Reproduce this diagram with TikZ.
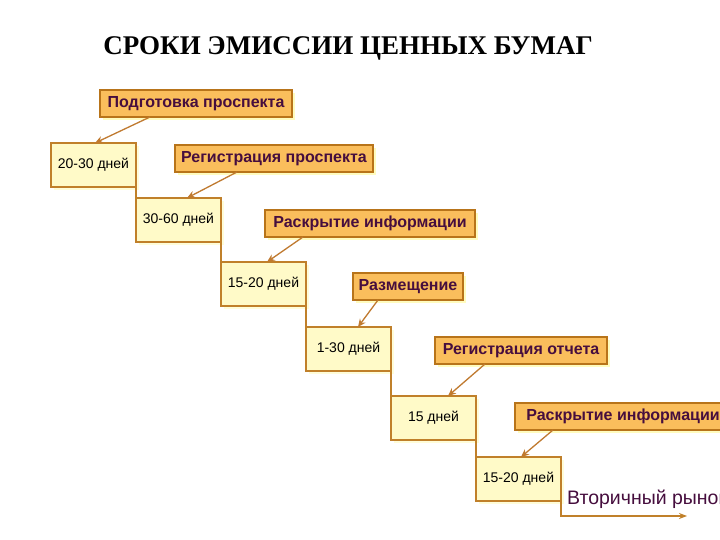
\documentclass[tikz,border=0pt]{standalone}
\usepackage{fontspec}
\setmainfont{Liberation Sans}
\newfontfamily\titlefont{Liberation Serif}
\usetikzlibrary{arrows.meta,shadows}

\definecolor{labelfill}{RGB}{250,190,92}
\definecolor{labeldraw}{RGB}{184,116,26}
\definecolor{dayfill}{RGB}{255,250,200}
\definecolor{daydraw}{RGB}{192,128,42}
\definecolor{labeltext}{RGB}{70,14,62}
\definecolor{arrowcol}{RGB}{192,122,48}

\tikzset{
    stage/.style={draw=labeldraw, line width=1.6pt, fill=labelfill, anchor=north west, outer sep=0pt,
        minimum height=27pt, inner sep=0pt, text=labeltext, font=\fontsize{16}{17}\selectfont\bfseries,
        drop shadow={fill=yellow!25, shadow xshift=3pt, shadow yshift=-3pt, opacity=1}},
    days/.style={draw=daydraw, line width=1.6pt, fill=dayfill, anchor=north west, outer sep=0pt,
        minimum width=85pt, minimum height=44pt, inner sep=0pt, font=\fontsize{14}{15}\selectfont,
        drop shadow={fill=yellow!15, shadow xshift=3pt, shadow yshift=-3pt, opacity=1}},
    pointer/.style={draw=arrowcol, line width=1.3pt, -{Stealth[length=8pt,width=7pt]}},
    stair/.style={draw=daydraw, line width=1.4pt}
}

\begin{document}
\begin{tikzpicture}[x=1pt, y=-1pt]
        \clip (0,0) rectangle (720,540);
        \fill[white] (0,0) rectangle (720,540);
        \node[anchor=base, font=\titlefont\fontsize{27}{28}\selectfont\bfseries] (title) at (348,55) {СРОКИ ЭМИССИИ ЦЕННЫХ БУМАГ};

        %Подготовка проспекта 20-30
        \node[stage, minimum width=192pt] (l1) at (100,90) {Подготовка проспекта};
        \node[days] (d1) at (51,143) {20-30 дней};

        %Регистрация проспекта 30-60
        \node[stage, minimum width=198pt] (l2) at (175,145) {Регистрация проспекта};
        \node[days] (d2) at (136,198) {30-60 дней};

        %Раскрытие информации 15-20
        \node[stage, minimum width=210pt] (l3) at (265,210) {Раскрытие информации};
        \node[days] (d3) at (221,262) {15-20 дней};

        %Размещение 1-30
        \node[stage, minimum width=110pt] (l4) at (353,273) {Размещение};
        \node[days] (d4) at (306,327) {1-30 дней};

        %Регистрация отчета 15
        \node[stage, minimum width=172pt] (l5) at (435,337) {Регистрация отчета};
        \node[days] (d5) at (391,396) {15 дней};

        %Раскрытие информации 15-20
        \node[stage, minimum width=216pt] (l6) at (515,403) {Раскрытие информации};
        \node[days] (d6) at (476,457) {15-20 дней};

        \node[anchor=base west, text=labeltext, font=\fontsize{19.5}{20}\selectfont, inner sep=0pt] (market) at (567,504) {Вторичный рынок};
        \coordinate (end) at (687,516);

        %lestnica
        \draw[stair] (d1.south east) -- (d2.north west);
        \draw[stair] (d2.south east) -- (d3.north west);
        \draw[stair] (d3.south east) -- (d4.north west);
        \draw[stair] (d4.south east) -- (d5.north west);
        \draw[stair] (d5.south east) -- (d6.north west);
        \draw[stair, -{Stealth[length=8pt,width=6pt]}] (d6.south east) |- (end);

        %strelki
        \draw[pointer] ([xshift=50pt]l1.south west) -- ([xshift=44pt]d1.north west);
        \draw[pointer] ([xshift=62pt]l2.south west) -- ([xshift=51pt]d2.north west);
        \draw[pointer] ([xshift=38pt]l3.south west) -- ([xshift=46pt]d3.north west);
        \draw[pointer] ([xshift=25pt]l4.south west) -- ([xshift=52pt]d4.north west);
        \draw[pointer] ([xshift=50pt]l5.south west) -- ([xshift=57pt]d5.north west);
        \draw[pointer] ([xshift=38pt]l6.south west) -- ([xshift=45pt]d6.north west);
    \end{tikzpicture}
\end{document}
